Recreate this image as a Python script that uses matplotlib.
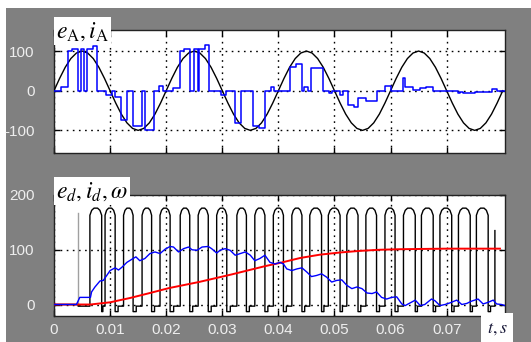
import numpy as np
import matplotlib.pyplot as plt
from matplotlib.patches import Rectangle

# ---- phase A: source voltage e_A (1 ms samples) and current i_A (steps) ----
t_eA = [i * 0.001 for i in range(81)]
e_A = [0, 31, 59, 81, 95, 100, 95, 81, 59, 31, 0, -31, -59, -81, -95, -100, -95, -81, -59, -31,
       0, 31, 59, 81, 95, 100, 95, 81, 59, 31, 0, -31, -59, -81, -95, -100, -95, -81, -59, -31,
       0, 31, 59, 81, 95, 100, 95, 81, 59, 31, 0, -31, -59, -81, -95, -100, -95, -81, -59, -31,
       0, 31, 59, 81, 95, 100, 95, 81, 59, 31, 0, -31, -59, -81, -95, -100, -95, -81, -59, -31,
       0]

t_iA = [0.0000, 0.0012, 0.0025, 0.0032, 0.0042, 0.0048, 0.0054, 0.0058, 0.0069, 0.0077,
        0.0093, 0.0104, 0.0108, 0.0120, 0.0131, 0.0141, 0.0156, 0.0163, 0.0178, 0.0188, 0.0195,
        0.0212, 0.0225, 0.0232, 0.0242, 0.0249, 0.0256, 0.0259, 0.0269, 0.0277,
        0.0297, 0.0306, 0.0323, 0.0334, 0.0355, 0.0366, 0.0376, 0.0386, 0.0392,
        0.0421, 0.0432, 0.0443, 0.0446, 0.0452, 0.0458, 0.0479,
        0.0490, 0.0496, 0.0510, 0.0515, 0.0525, 0.0534, 0.0542, 0.0556, 0.0575,
        0.0590, 0.0600, 0.0622, 0.0625, 0.0640, 0.0652, 0.0664, 0.0676,
        0.0720, 0.0724, 0.0730, 0.0750, 0.0780, 0.0789, 0.0804]
i_A = [0, 10, 100, 105, 0, 106, 0, 106, 112, 0,
       -12, 0, -15, -75, 0, -90, 0, -100, 0, 12, 0,
       8, 100, 105, 0, 105, 0, 106, 114, 0,
       -12, 0, -82, 0, -88, -95, 0, 10, 0,
       61, 68, 0, 10, 0, 57, 0,
       -6, 0, -10, 0, -36, -40, -19, -26, 0,
       12, 0, 31, 9, 2, 7, 10, 0,
       -6, -3, -7, -4, 4, 0, 0]

# ---- rectifier voltage e_d (pulse edges), current i_d, speed omega ----
ed_start = 0.0043
ed_start_peak = 168
ed_rise = [0.0064, 0.0091, 0.0124, 0.0157, 0.0189, 0.0225, 0.0257, 0.0290, 0.0326, 0.0358,
           0.0391, 0.0424, 0.0456, 0.0489, 0.0522, 0.0556, 0.0590, 0.0623, 0.0655, 0.0688,
           0.0721, 0.0753, 0.0786]
ed_fall = [0.0085, 0.0109, 0.0141, 0.0174, 0.0207, 0.0242, 0.0275, 0.0308, 0.0343, 0.0376,
           0.0409, 0.0442, 0.0477, 0.0510, 0.0542, 0.0575, 0.0608, 0.0644, 0.0676, 0.0709,
           0.0742, 0.0774]
ed_crest, ed_edge, ed_low, ed_dip, ed_last = 176, 163, -3, -13, 135

t_id = [0, 0.0040, 0.0046, 0.0065, 0.0067, 0.0073, 0.0082, 0.0088, 0.0094, 0.0100,
        0.0109, 0.0115, 0.0121, 0.0130, 0.0141, 0.0146, 0.0153, 0.0162, 0.0171, 0.0180,
        0.0189, 0.0198, 0.0207, 0.0213, 0.0222, 0.0231, 0.0240, 0.0246, 0.0255, 0.0264,
        0.0275, 0.0281, 0.0290, 0.0296, 0.0305, 0.0314, 0.0323, 0.0332, 0.0341, 0.0350,
        0.0358, 0.0367, 0.0376, 0.0385, 0.0394, 0.0403, 0.0409, 0.0415, 0.0424, 0.0433,
        0.0442, 0.0451, 0.0459, 0.0468, 0.0477, 0.0486, 0.0495, 0.0504, 0.0513, 0.0522,
        0.0531, 0.0540, 0.0549, 0.0558, 0.0567, 0.0575, 0.0584, 0.0593, 0.0602, 0.0611,
        0.0620, 0.0626, 0.0635, 0.0644, 0.0653, 0.0661, 0.0673, 0.0679, 0.0688, 0.0697,
        0.0706, 0.0718, 0.0727, 0.0736, 0.0744, 0.0756, 0.0765, 0.0774, 0.0783, 0.0789,
        0.0798, 0.0804]
i_d = [0, 0, 13, 13, 23, 32, 43, 44, 53, 62,
       67, 63, 68, 77, 84, 87, 80, 84, 93, 96,
       93, 101, 106, 105, 96, 102, 105, 100, 99, 105,
       106, 102, 94, 99, 102, 99, 90, 93, 96, 90,
       80, 84, 90, 77, 74, 77, 74, 65, 62, 65,
       67, 59, 51, 53, 56, 50, 41, 44, 45, 35,
       29, 32, 29, 21, 20, 23, 13, 10, 13, 14,
       1, -2, 3, 8, -2, 0, 10, 7, -2, 0,
       3, 8, 0, 2, 6, 10, 1, 4, 8, 1,
       0, -2]

t_w = [0, 0.0065, 0.0100, 0.0136, 0.0171, 0.0205, 0.0258, 0.0317, 0.0376, 0.0403,
       0.0439, 0.0474, 0.0510, 0.0546, 0.0581, 0.0617, 0.0700, 0.0795]
w = [0, 0, 4, 12, 21, 30, 41, 55, 70, 76,
     85, 91, 95, 98, 100, 101, 102, 102]

xticks = [0, 0.01, 0.02, 0.03, 0.04, 0.05, 0.06, 0.07]
xticklabels = ['0', '0.01', '0.02', '0.03', '0.04', '0.05', '0.06', '0.07']

# build the pulse train of e_d from the read edges
ed_t = [0, ed_start, ed_start]
ed_v = [0, 0, ed_low]
for k, tr in enumerate(ed_rise):
    ed_t += [tr, tr]
    ed_v += [ed_low, ed_edge]
    if k >= len(ed_fall):
        ed_t[-1] = tr
        ed_v[-1] = ed_last
        break
    tf = ed_fall[k]
    d = tf - tr
    ed_t += [tr + 0.15 * d, tr + 0.35 * d, tr + 0.65 * d, tr + 0.85 * d, tf, tf]
    ed_v += [ed_crest - 4, ed_crest, ed_crest, ed_crest - 4, ed_edge, ed_dip]
    g = ed_rise[k + 1] - tf
    ed_t += [tf + 0.35 * g, tf + 0.35 * g]
    ed_v += [ed_dip, ed_low]

W, H = 531, 342
fig = plt.figure(figsize=(W / 100, H / 100), dpi=100, facecolor='white')
fig.patches.append(Rectangle((6 / W, 0), 1, 1 - 8 / H, transform=fig.transFigure,
                             facecolor='#808080', edgecolor='none', zorder=-10))

tick_font = dict(family=['Liberation Sans', 'DejaVu Sans'], size=11)
ax1 = fig.add_axes([54 / W, 1 - 153 / H, 451 / W, 123 / H])
ax2 = fig.add_axes([54 / W, 1 - 316 / H, 451 / W, 121 / H])

ax1.plot(t_eA, e_A, color='black', lw=1.0, zorder=3)
ax1.step(t_iA, i_A, where='post', color='#0000ff', lw=1.1, zorder=4)
ax1.set_ylim(-157, 153)
ax1.set_yticks([-100, 0, 100])
ax1.set_yticklabels(['-100', '0', '100'])

ax2.plot([ed_start, ed_start], [0, ed_start_peak], color='#a0a0a0', lw=1.0, zorder=2)
ax2.plot(ed_t, ed_v, color='black', lw=1.0, zorder=3)
ax2.plot(t_w, w, color='#ff0000', lw=1.4, zorder=4)
ax2.plot(t_id, i_d, color='#0000ff', lw=1.0, zorder=5)
ax2.set_ylim(-21, 199)
ax2.set_yticks([0, 100, 200])
ax2.set_yticklabels(['0', '100', '200'])

for ax in (ax1, ax2):
    ax.set_xlim(0, 0.0804)
    ax.set_xticks(xticks)
    ax.set_xticklabels([] if ax is ax1 else xticklabels)
    ax.set_facecolor('white')
    ax.grid(True, color='black', linestyle=(0, (1.2, 3.2)), lw=1.0)
    ax.tick_params(direction='in', length=4, width=1, top=True, right=True,
                   colors='black', labelcolor='#eeeeee')
    ax.tick_params(axis='y', pad=14)
    ax.tick_params(axis='x', pad=5)
    for lab in ax.get_xticklabels() + ax.get_yticklabels():
        lab.set_fontfamily(tick_font['family'])
        lab.set_fontsize(tick_font['size'])
    for s in ax.spines.values():
        s.set_color('#222222')
        s.set_linewidth(1.0)

plt.rcParams['mathtext.fontset'] = 'stix'
box = dict(facecolor='white', edgecolor='none', pad=1.5)
fig.text(56 / W, 1 - 19 / H, r'$e_{\mathrm{A}}, i_{\mathrm{A}}$', fontsize=17,
         va='top', ha='left', bbox=box, zorder=10)
fig.text(56 / W, 1 - 179 / H, r'$e_{d}, i_{d}, \omega$', fontsize=17,
         va='top', ha='left', bbox=box, zorder=10)
fig.text(487 / W, 1 - 337 / H, r'$t, s$', fontsize=13, color='#1a1a3a',
         va='bottom', ha='left', bbox=dict(facecolor='white', edgecolor='none', pad=4), zorder=10)

fig.savefig('out.png', dpi=100, facecolor=fig.get_facecolor())
